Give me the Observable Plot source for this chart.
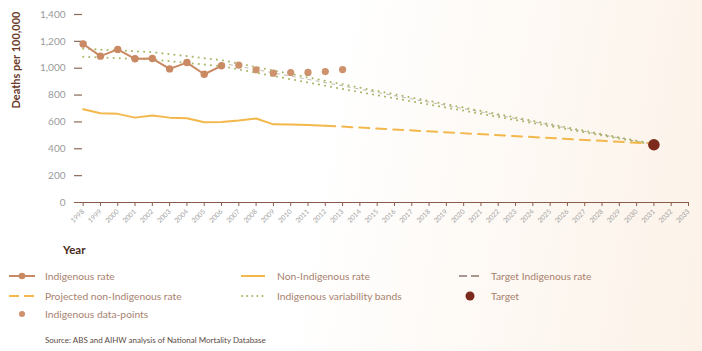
<!DOCTYPE html>
<html><head><meta charset="utf-8">
<script src="https://cdn.jsdelivr.net/npm/d3@7"></script>
<script src="https://cdn.jsdelivr.net/npm/@observablehq/plot@0.6"></script>
<style>
body{margin:0;width:702px;height:351px;overflow:hidden;position:relative;background:linear-gradient(100deg,#ffffff 45%,#fcf2e8 100%);font-family:Lato,"Open Sans",sans-serif}
#chart{position:absolute;left:0;top:0}
#xtitle{position:absolute;left:63px;top:243px;font-size:11.5px;font-weight:700;color:#4a2c22}
.lg{position:absolute;display:flex;align-items:center;font-size:10.3px;color:#a8826f;white-space:nowrap;height:14px}
.lg svg{display:block;margin-right:9px}
#source{position:absolute;left:45px;top:335px;font-size:8px;color:#5a4a44}
</style></head><body>
<div id="chart"></div>
<div id="xtitle">Year</div>
<div id="legend"></div>
<div id="source">Source: ABS and AIHW analysis of National Mortality Database</div>
<script>
// ---- data ----
const indigYears = [1998, 1999, 2000, 2001, 2002, 2003, 2004, 2005, 2006];
const indigRate  = [1180, 1090, 1140, 1070, 1072, 995, 1042, 955, 1018];

const pointYears = [2007, 2008, 2009, 2010, 2011, 2012, 2013];
const pointRate  = [1023, 988, 963, 968, 969, 975, 990];

const nonYears = [1998, 1999, 2000, 2001, 2002, 2003, 2004, 2005, 2006, 2007, 2008, 2009, 2010, 2011, 2012];
const nonRate  = [695, 665, 660, 632, 647, 632, 627, 597, 600, 610, 625, 582, 580, 577, 572];

const projYears = [2012, 2031];
const projRate  = [572, 438];

const targetLineYears = [2006, 2031];
const targetLineRate  = [1038, 432];

const bandYears = [1998, 2002, 2006, 2013, 2031];
const bandUpper = [1145, 1120, 1060, 880, 435];
const bandLower = [1085, 1065, 1015, 845, 430];

const targetYear = [2031];
const targetRate = [430];

const yTicks = [0, 200, 400, 600, 800, 1000, 1200, 1400];
const xTickYears = d3.range(1998, 2034);

const zip = (xs, ys) => xs.map((x, i) => ({x, y: ys[i]}));

const brown = "#c98a63", yellow = "#f2b84b", green = "#a8b868", dark = "#7b2a1c";

const chart = Plot.plot({
  width: 702, height: 240,
  marginLeft: 74, marginRight: 14, marginTop: 14, marginBottom: 38,
  style: {background: "transparent", fontFamily: "Lato, 'Open Sans', sans-serif"},
  x: {domain: [1997.5, 2033]},
  y: {domain: [0, 1400]},
  marks: [
    Plot.axisY({ticks: yTicks, tickSize: 0, tickPadding: 9, fontSize: 10, fill: "#9a9a9a", label: null}),
    Plot.ruleY(yTicks.filter(d => d > 0), {x1: 1997.5, x2: 1997.96, stroke: "#8a6a5a", strokeWidth: 1.2}),
    Plot.axisX({ticks: xTickYears, tickFormat: d => String(d), tickRotate: -45, tickSize: 4, tickPadding: 4,
      fontSize: 6.8, fill: "#a0a0a0", stroke: "#8a5a4a", label: null}),
    Plot.ruleY([0], {stroke: "#8a5a4a", strokeWidth: 1.2}),
    Plot.text(["Deaths per 100,000"], {frameAnchor: "left", dx: -58, rotate: -90, fontSize: 11, fontWeight: 700, fill: "#6b3a2a"}),
    Plot.line(zip(bandYears, bandUpper), {x: "x", y: "y", stroke: green, strokeWidth: 2, strokeDasharray: "0.1,6", strokeLinecap: "round"}),
    Plot.line(zip(bandYears, bandLower), {x: "x", y: "y", stroke: green, strokeWidth: 2, strokeDasharray: "0.1,6", strokeLinecap: "round"}),
    Plot.line(zip(targetLineYears, targetLineRate), {x: "x", y: "y", stroke: "#a89a8c", strokeWidth: 1, strokeDasharray: "3,5", strokeOpacity: 0.7}),
    Plot.line(zip(nonYears, nonRate), {x: "x", y: "y", stroke: yellow, strokeWidth: 2}),
    Plot.line(zip(projYears, projRate), {x: "x", y: "y", stroke: yellow, strokeWidth: 2, strokeDasharray: "10,7"}),
    Plot.line(zip(indigYears, indigRate), {x: "x", y: "y", stroke: brown, strokeWidth: 2}),
    Plot.dot(zip(indigYears, indigRate), {x: "x", y: "y", r: 3.7, fill: brown}),
    Plot.dot(zip(pointYears, pointRate), {x: "x", y: "y", r: 3.6, fill: "#cd916b"}),
    Plot.dot(zip(targetYear, targetRate), {x: "x", y: "y", r: 5.8, fill: dark})
  ]
});
document.getElementById("chart").appendChild(chart);

// ---- legend ----
const legendItems = [
  {label: "Indigenous rate", x: 8, y: 269, sym: `<line x1="1" y1="5" x2="27" y2="5" stroke="${brown}" stroke-width="2"/><circle cx="14" cy="5" r="3.3" fill="${brown}"/>`},
  {label: "Non-Indigenous rate", x: 240, y: 269, sym: `<line x1="1" y1="5" x2="25" y2="5" stroke="${yellow}" stroke-width="2"/>`},
  {label: "Target Indigenous rate", x: 458, y: 269, sym: `<line x1="1" y1="5" x2="24" y2="5" stroke="#8a7a72" stroke-width="1.6" stroke-dasharray="8,4"/>`},
  {label: "Projected non-Indigenous rate", x: 8, y: 289, sym: `<line x1="1" y1="5" x2="27" y2="5" stroke="${yellow}" stroke-width="2" stroke-dasharray="10,5"/>`},
  {label: "Indigenous variability bands", x: 240, y: 289, sym: `<line x1="2" y1="5" x2="25" y2="5" stroke="${green}" stroke-width="2" stroke-dasharray="0.1,5" stroke-linecap="round"/>`},
  {label: "Target", x: 458, y: 289, sym: `<circle cx="12" cy="5" r="4.5" fill="${dark}"/>`},
  {label: "Indigenous data-points", x: 8, y: 307, sym: `<circle cx="14" cy="5" r="3" fill="#cd916b"/>`}
];
const lg = document.getElementById("legend");
for (const it of legendItems) {
  const w = it.x === 458 ? 24 : 28;
  const d = document.createElement("div");
  d.className = "lg";
  d.style.left = it.x + "px";
  d.style.top = it.y + "px";
  d.innerHTML = `<svg width="${w}" height="10">${it.sym}</svg><span>${it.label}</span>`;
  lg.appendChild(d);
}
</script>
</body></html>
